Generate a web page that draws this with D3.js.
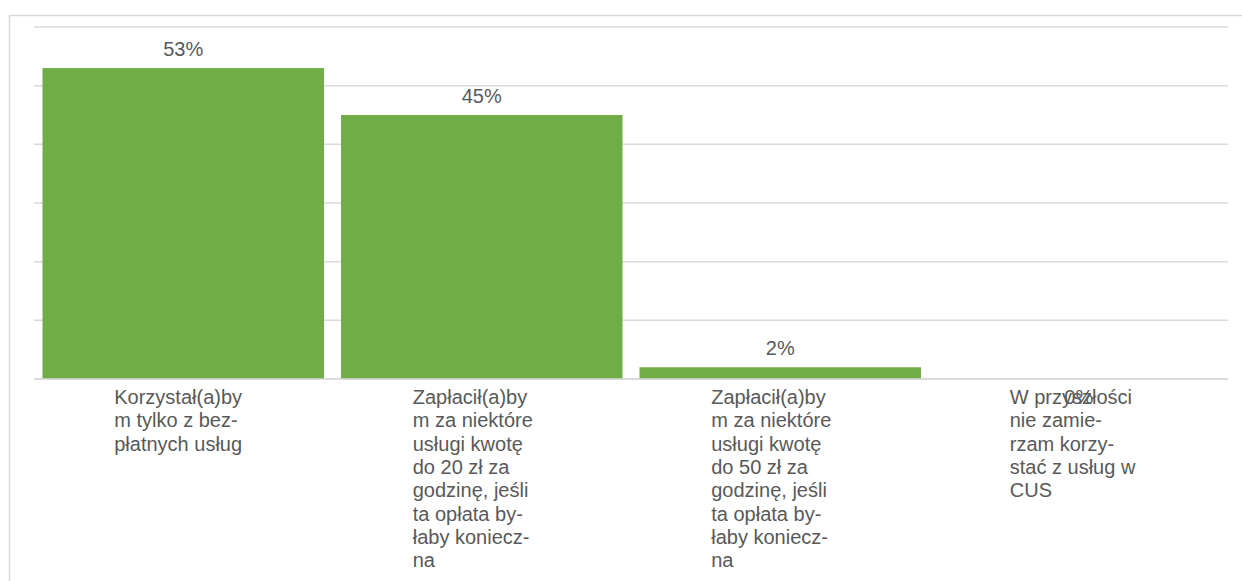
<!DOCTYPE html>
<html>
<head>
<meta charset="utf-8">
<script src="https://cdn.jsdelivr.net/npm/d3@7"></script>
<style>
  body { margin: 0; background: #fff; }
  svg { display: block; font-family: "Liberation Sans", Arial, sans-serif; }
</style>
</head>
<body>
<div id="chart"></div>
<script>
// data
const categories = [
  "Korzystał(a)by\nm tylko z bez-\npłatnych usług",
  "Zapłacił(a)by\nm za niektóre\nusługi kwotę\ndo 20 zł za\ngodzinę, jeśli\nta opłata by-\nłaby koniecz-\nna",
  "Zapłacił(a)by\nm za niektóre\nusługi kwotę\ndo 50 zł za\ngodzinę, jeśli\nta opłata by-\nłaby koniecz-\nna",
  "W przyszłości\nnie zamie-\nrzam korzy-\nstać z usług w\nCUS"
];
const values = [0.53, 0.45, 0.02, 0];
const yTicks = [0, 0.1, 0.2, 0.3, 0.4, 0.5, 0.6];

const width = 1242;
const height = 581;
const margin = {top: 27, right: 14, bottom: 202, left: 34};

const svg = d3.select("#chart")
  .append("svg")
  .attr("width", width)
  .attr("height", height);

// chart border
svg.append("rect")
  .attr("x", 9.5)
  .attr("y", 15.5)
  .attr("width", width)
  .attr("height", height)
  .attr("fill", "none")
  .attr("stroke", "#d9d9d9")
  .attr("stroke-width", 1.5);

const x = d3.scaleBand()
  .domain(d3.range(categories.length))
  .range([margin.left, width - margin.right])
  .paddingInner(0.057)
  .paddingOuter(0.0285);

const y = d3.scaleLinear()
  .domain([0, 0.6])
  .range([height - margin.bottom, margin.top]);

// gridlines
svg.append("g")
  .selectAll("line")
  .data(yTicks)
  .enter()
  .append("line")
  .attr("x1", margin.left)
  .attr("x2", width - margin.right)
  .attr("y1", d => y(d))
  .attr("y2", d => y(d))
  .attr("stroke", "#d9d9d9")
  .attr("stroke-width", 1.5);

// bars
svg.append("g")
  .selectAll("rect")
  .data(values)
  .enter()
  .append("rect")
  .attr("x", (d, i) => x(i))
  .attr("y", d => y(d))
  .attr("width", x.bandwidth())
  .attr("height", d => y(0) - y(d))
  .attr("fill", "#70ad47");

// baseline over bars
svg.append("line")
  .attr("x1", margin.left)
  .attr("x2", width - margin.right)
  .attr("y1", y(0))
  .attr("y2", y(0))
  .attr("stroke", "#d9d9d9")
  .attr("stroke-width", 1.5);

// data labels
svg.append("g")
  .selectAll("text")
  .data(values)
  .enter()
  .append("text")
  .attr("x", (d, i) => x(i) + x.bandwidth() / 2)
  .attr("y", d => d > 0 ? y(d) - 12 : y(0) + 25)
  .attr("text-anchor", "middle")
  .attr("fill", "#595959")
  .attr("font-size", "20px")
  .text(d => d3.format(".0%")(d));

// category labels
const step = x.step();
const labels = svg.append("g")
  .selectAll("text")
  .data(categories)
  .enter()
  .append("text")
  .attr("x", (d, i) => margin.left + step * (i + 0.5) - 69)
  .attr("y", y(0) + 25)
  .attr("fill", "#595959")
  .attr("font-size", "20px");

labels.selectAll("tspan")
  .data(d => d.split("\n"))
  .enter()
  .append("tspan")
  .attr("x", function() { return this.parentNode.getAttribute("x"); })
  .attr("dy", (d, i) => i === 0 ? 0 : 23.3)
  .text(d => d);
</script>
</body>
</html>
